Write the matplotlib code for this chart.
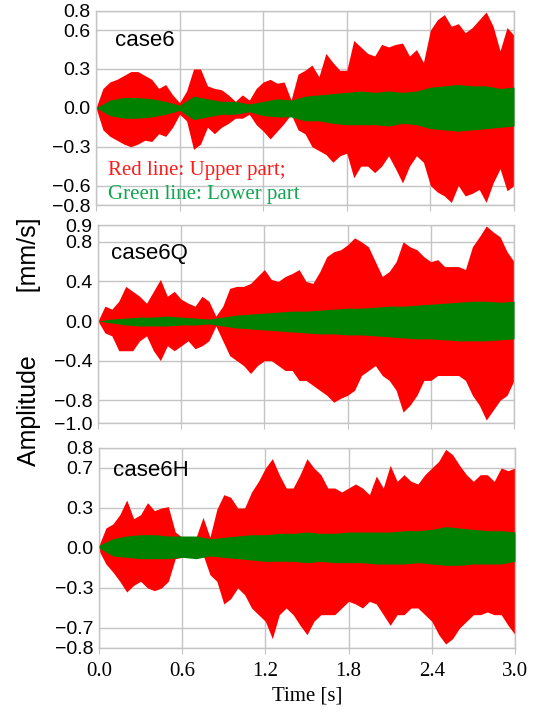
import numpy as np
import matplotlib
matplotlib.use("Agg")
import matplotlib.pyplot as plt

# ---------------- data (envelopes) ----------------
t_red = np.linspace(0.0, 3.0, 61)   # 0.05 s steps
t_grn = np.linspace(0.0, 3.0, 31)   # 0.1 s steps

case6_red_up = [0.0, 0.15, 0.2, 0.22, 0.25, 0.28, 0.28, 0.25, 0.22, 0.15, 0.18, 0.1, 0.04,
                0.13, 0.3, 0.3, 0.17, 0.15, 0.14, 0.1, 0.05, 0.1, 0.06, 0.15, 0.2, 0.22,
                0.19, 0.2, 0.06, 0.26, 0.29, 0.33, 0.24, 0.42, 0.35, 0.29, 0.29, 0.52,
                0.47, 0.42, 0.4, 0.49, 0.47, 0.49, 0.5, 0.4, 0.45, 0.35, 0.6, 0.68, 0.72,
                0.63, 0.65, 0.58, 0.62, 0.68, 0.74, 0.63, 0.44, 0.62, 0.56]
case6_red_lo = [0.0, -0.17, -0.22, -0.25, -0.28, -0.3, -0.28, -0.25, -0.26, -0.2, -0.22,
                -0.15, -0.05, -0.1, -0.32, -0.28, -0.15, -0.2, -0.15, -0.12, -0.08, -0.08,
                -0.05, -0.13, -0.18, -0.24, -0.18, -0.12, -0.05, -0.17, -0.2, -0.3, -0.33,
                -0.36, -0.42, -0.37, -0.35, -0.54, -0.45, -0.45, -0.5, -0.45, -0.37, -0.47,
                -0.58, -0.45, -0.37, -0.42, -0.6, -0.65, -0.68, -0.73, -0.6, -0.68, -0.66,
                -0.63, -0.73, -0.58, -0.47, -0.64, -0.6]
case6_grn_up = [0.0, 0.06, 0.08, 0.08, 0.07, 0.05, 0.02, 0.09, 0.07, 0.05, 0.05, 0.03, 0.05,
                0.07, 0.06, 0.09, 0.1, 0.11, 0.12, 0.13, 0.12, 0.13, 0.12, 0.13, 0.16, 0.17,
                0.18, 0.17, 0.17, 0.15, 0.16]
case6_grn_lo = [0.0, -0.06, -0.08, -0.08, -0.07, -0.05, -0.02, -0.09, -0.07, -0.05, -0.05,
                -0.03, -0.06, -0.07, -0.07, -0.1, -0.1, -0.12, -0.13, -0.13, -0.13, -0.14,
                -0.12, -0.13, -0.16, -0.17, -0.18, -0.17, -0.16, -0.15, -0.14]

case6Q_red_up = [0.0, 0.15, 0.12, 0.2, 0.35, 0.3, 0.25, 0.18, 0.3, 0.42, 0.25, 0.3, 0.22,
                 0.18, 0.15, 0.25, 0.2, 0.05, 0.15, 0.33, 0.35, 0.35, 0.38, 0.45, 0.52,
                 0.42, 0.4, 0.45, 0.48, 0.52, 0.4, 0.38, 0.5, 0.65, 0.7, 0.72, 0.77, 0.84,
                 0.8, 0.75, 0.6, 0.45, 0.5, 0.6, 0.8, 0.75, 0.72, 0.65, 0.6, 0.62, 0.55,
                 0.55, 0.55, 0.52, 0.75, 0.85, 0.96, 0.9, 0.85, 0.7, 0.6]
case6Q_red_lo = [0.0, -0.12, -0.15, -0.3, -0.3, -0.3, -0.2, -0.15, -0.3, -0.4, -0.25, -0.3,
                 -0.25, -0.2, -0.28, -0.25, -0.2, -0.05, -0.2, -0.35, -0.4, -0.45, -0.53,
                 -0.45, -0.4, -0.4, -0.45, -0.5, -0.5, -0.6, -0.6, -0.65, -0.7, -0.75,
                 -0.82, -0.78, -0.75, -0.7, -0.55, -0.5, -0.45, -0.55, -0.6, -0.7, -0.92,
                 -0.85, -0.75, -0.6, -0.6, -0.55, -0.55, -0.55, -0.55, -0.6, -0.75, -0.85,
                 -1.0, -0.9, -0.8, -0.75, -0.6]
case6Q_grn_up = [0.0, 0.02, 0.03, 0.04, 0.04, 0.05, 0.04, 0.03, 0.02, 0.04, 0.06, 0.07, 0.08,
                 0.09, 0.1, 0.1, 0.11, 0.12, 0.13, 0.13, 0.14, 0.15, 0.15, 0.16, 0.17, 0.18,
                 0.19, 0.2, 0.2, 0.19, 0.2]
case6Q_grn_lo = [0.0, -0.02, -0.04, -0.05, -0.05, -0.05, -0.04, -0.04, -0.03, -0.05, -0.07,
                 -0.08, -0.09, -0.1, -0.11, -0.12, -0.13, -0.13, -0.14, -0.14, -0.15, -0.16,
                 -0.17, -0.18, -0.18, -0.19, -0.2, -0.2, -0.2, -0.19, -0.18]

case6H_red_up = [0.02, 0.15, 0.18, 0.25, 0.36, 0.22, 0.25, 0.34, 0.28, 0.3, 0.31, 0.12, 0.08,
                 0.06, 0.08, 0.23, 0.08, 0.29, 0.4, 0.38, 0.3, 0.3, 0.42, 0.5, 0.6, 0.67,
                 0.55, 0.45, 0.45, 0.55, 0.67, 0.6, 0.55, 0.45, 0.45, 0.42, 0.45, 0.48,
                 0.45, 0.4, 0.54, 0.45, 0.62, 0.5, 0.55, 0.5, 0.48, 0.55, 0.6, 0.65, 0.74,
                 0.7, 0.62, 0.55, 0.5, 0.55, 0.55, 0.5, 0.6, 0.58, 0.6]
case6H_red_lo = [-0.02, -0.12, -0.18, -0.25, -0.33, -0.28, -0.25, -0.3, -0.32, -0.3, -0.25,
                 -0.08, -0.07, -0.05, -0.08, -0.05, -0.2, -0.25, -0.42, -0.38, -0.3, -0.35,
                 -0.45, -0.5, -0.55, -0.68, -0.5, -0.45, -0.5, -0.58, -0.65, -0.55, -0.5,
                 -0.5, -0.5, -0.45, -0.4, -0.42, -0.45, -0.4, -0.42, -0.5, -0.58, -0.5,
                 -0.5, -0.45, -0.45, -0.5, -0.55, -0.65, -0.72, -0.68, -0.6, -0.55, -0.5,
                 -0.5, -0.48, -0.5, -0.5, -0.58, -0.65]
case6H_grn_up = [0.02, 0.07, 0.09, 0.1, 0.1, 0.09, 0.09, 0.09, 0.07, 0.08, 0.09, 0.1, 0.1,
                 0.11, 0.11, 0.12, 0.11, 0.11, 0.12, 0.12, 0.12, 0.12, 0.13, 0.13, 0.14,
                 0.16, 0.15, 0.14, 0.13, 0.13, 0.12]
case6H_grn_lo = [0.0, -0.06, -0.07, -0.08, -0.08, -0.08, -0.07, -0.08, -0.06, -0.07, -0.08,
                 -0.09, -0.1, -0.1, -0.1, -0.11, -0.1, -0.11, -0.11, -0.11, -0.12, -0.12,
                 -0.12, -0.11, -0.12, -0.13, -0.13, -0.12, -0.12, -0.12, -0.1]

case_names = ["case6", "case6Q", "case6H"]
x_ticks = [0.0, 0.6, 1.2, 1.8, 2.4, 3.0]
x_tick_labels = ["0.0", "0.6", "1.2", "1.8", "2.4", "3.0"]
y_limits = [(-0.75, 0.75), (-1.03, 0.97), (-0.75, 0.75)]
y_ticks = [[-0.75, -0.6, -0.3, 0.0, 0.3, 0.6, 0.75],
           [-1.03, -0.8, -0.4, 0.0, 0.4, 0.8, 0.97],
           [-0.75, -0.6, -0.3, 0.0, 0.3, 0.6, 0.75]]
y_tick_labels = [["−0.8", "−0.6", "−0.3", "0.0", "0.3", "0.6", "0.8"],
                 ["−1.0", "−0.8", "−0.4", "0.0", "0.4", "0.8", "0.9"],
                 ["−0.8", "−0.7", "−0.3", "0.0", "0.3", "0.7", "0.8"]]

red_up = [case6_red_up, case6Q_red_up, case6H_red_up]
red_lo = [case6_red_lo, case6Q_red_lo, case6H_red_lo]
grn_up = [case6_grn_up, case6Q_grn_up, case6H_grn_up]
grn_lo = [case6_grn_lo, case6Q_grn_lo, case6H_grn_lo]

# ---------------- figure ----------------
W, H = 538, 712
fig = plt.figure(figsize=(W / 100, H / 100), dpi=100)
SANS = "Liberation Sans"
SERIF = "Liberation Serif"
GRID = "#c4c4c4"

# axes boxes in pixels: (left, top, right, bottom)
boxes = [(96, 10.7, 514, 205), (98, 225, 514, 423), (99, 448, 515, 648)]
text_pos = [(115, 40.5), (111, 253), (113, 471)]

for i in range(3):
    l, tp, r, b = boxes[i]
    ax = fig.add_axes([l / W, 1 - b / H, (r - l) / W, (b - tp) / H])
    ax.fill_between(t_red, red_lo[i], red_up[i], color="#ff0000", lw=0, zorder=2)
    ax.fill_between(t_grn, grn_lo[i], grn_up[i], color="#008000", lw=0, zorder=3)
    ax.set_xlim(0, 3.0)
    ax.set_ylim(*y_limits[i])
    ax.set_xticks(x_ticks)
    ax.set_yticks(y_ticks[i])
    ax.set_yticklabels(y_tick_labels[i], fontfamily=SANS, fontsize=14)
    if i == 2:
        ax.set_xticklabels(x_tick_labels, fontfamily=SERIF, fontsize=15)
        ax.set_xlabel("Time [s]", fontfamily=SERIF, fontsize=15, labelpad=4)
    else:
        ax.set_xticklabels([])
    ax.grid(True, color=GRID, lw=1.0, zorder=1)
    ax.set_axisbelow(True)
    for s in ax.spines.values():
        s.set_color(GRID)
        s.set_linewidth(1.0)
    ax.tick_params(axis="x", direction="out", length=4, color=GRID, pad=6)
    ax.tick_params(axis="y", length=0, pad=4)
    tx, ty = text_pos[i]
    fig.text(tx / W, 1 - ty / H, case_names[i], fontfamily=SANS, fontsize=16,
             ha="left", va="center")

fig.text(108 / W, 1 - 170 / H, "Red line: Upper part;", fontfamily=SERIF, fontsize=15,
         color="#ff1a1a", ha="left", va="center")
fig.text(108 / W, 1 - 194 / H, "Green line: Lower part", fontfamily=SERIF, fontsize=15,
         color="#12a650", ha="left", va="center")

fig.text(29 / W, 1 - 342 / H, "Amplitude         [mm/s]", fontfamily=SANS, fontsize=18,
         rotation=90, ha="center", va="center")

fig.savefig("out.png", dpi=100)
